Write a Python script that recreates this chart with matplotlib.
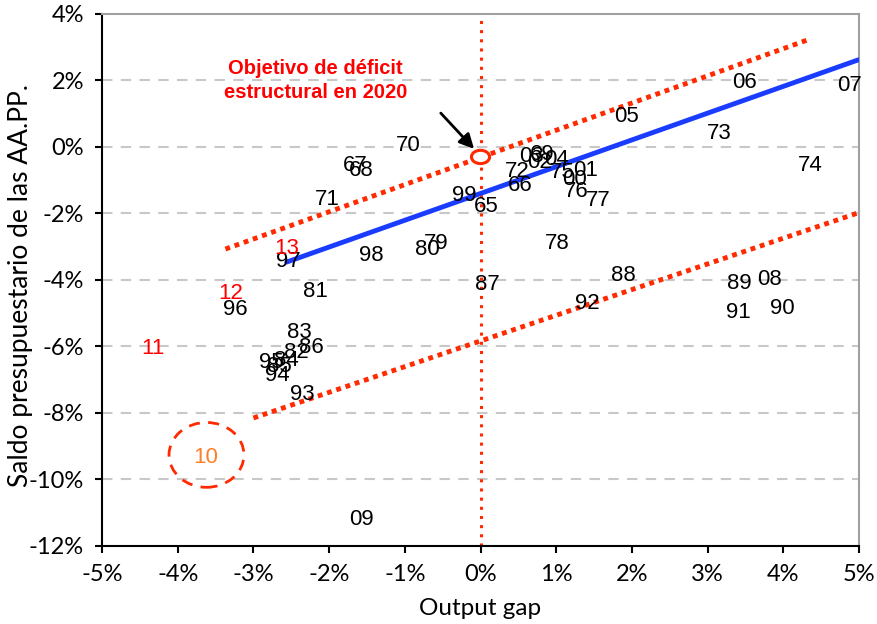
import matplotlib
matplotlib.use("Agg")
import matplotlib.pyplot as plt
from matplotlib.patches import Ellipse
from matplotlib.ticker import FuncFormatter

# años (etiquetas) y coordenadas: output gap (%) y saldo presupuestario (% PIB)
years = ["65", "66", "67", "68", "69", "70", "71", "72", "73", "74",
         "75", "76", "77", "78", "79", "80", "81", "82", "83", "84",
         "85", "86", "87", "88", "89", "90", "91", "92", "93", "94",
         "95", "96", "97", "98", "99", "00", "01", "02", "03", "04",
         "05", "06", "07", "08", "09", "10", "11", "12", "13"]
output_gap = [0.08, 0.53, -1.66, -1.57, 0.82, -0.95, -2.02, 0.48, 3.16, 4.35,
              1.08, 1.27, 1.55, 1.02, -0.58, -0.70, -2.18, -2.43, -2.39, -2.56,
              -2.66, -2.23, 0.09, 1.89, 3.42, 3.98, 3.41, 1.41, -2.35, -2.69,
              -2.77, -3.24, -2.54, -1.44, -0.21, 1.24, 1.39, 0.78, 0.67, 1.00,
              1.93, 3.49, 4.87, 3.82, -1.57, -3.63, -4.33, -3.30, -2.56]
saldo = [-1.80, -1.17, -0.57, -0.72, -0.24, 0.03, -1.59, -0.75, 0.42, -0.57,
         -0.78, -1.35, -1.62, -2.89, -2.89, -3.07, -4.36, -6.17, -5.59, -6.41,
         -6.59, -6.02, -4.15, -3.85, -4.12, -4.87, -4.99, -4.72, -7.43, -6.86,
         -6.47, -4.90, -3.43, -3.25, -1.47, -0.99, -0.72, -0.48, -0.30, -0.39,
         0.93, 1.95, 1.86, -4.00, -11.19, -9.35, -6.05, -4.42, -3.04]

# años recientes con otro color
highlight = {"10": "#ff7f27", "11": "#ff0000", "12": "#ff0000", "13": "#ff0000"}

# recta de regresión y bandas (extremos)
reg_x = [-2.56, 4.99]
reg_y = [-3.46, 2.62]
upper_x = [-3.37, 4.32]
upper_y = [-3.07, 3.22]
lower_x = [-3.0, 4.99]
lower_y = [-8.15, -1.98]

# objetivo de déficit estructural 2020
target_x = 0.0
target_y = -0.30

red = "#ff2a00"

fig = plt.figure(figsize=(8.78, 6.24), dpi=100)
ax = fig.add_axes([0.1162, 0.125, 0.8622, 0.8526])

ax.set_xlim(-5, 5)
ax.set_ylim(-12, 4)
ax.set_yticks(range(-12, 5, 2))
ax.set_xticks(range(-5, 6, 1))
ax.yaxis.set_major_formatter(FuncFormatter(lambda v, p: "%d%%" % v))
ax.xaxis.set_major_formatter(FuncFormatter(lambda v, p: "%d%%" % v))

for yv in range(-10, 4, 2):
    ax.axhline(yv, color="#c8c8c8", lw=1.5, ls=(0, (5, 4)), zorder=0)

ax.spines["top"].set_color("#a0a0a0")
ax.spines["top"].set_linewidth(1.5)
ax.spines["right"].set_color("#a0a0a0")
ax.spines["right"].set_linewidth(1.5)
ax.spines["left"].set_linewidth(1.5)
ax.spines["bottom"].set_linewidth(1.5)
ax.tick_params(direction="out", length=5, width=1.5, labelsize=17, pad=8)
for lab in ax.get_xticklabels() + ax.get_yticklabels():
    lab.set_family("Lato")

ax.set_xlabel("Output gap", fontsize=17.5, family="Lato")
ax.set_ylabel("Saldo presupuestario de las AA.PP.", fontsize=19, family="Lato")
ax.xaxis.set_label_coords(0.5, -0.098)
ax.yaxis.set_label_coords(-0.091, 0.49)

# línea vertical en 0
ax.axvline(0, color=red, lw=2.2, ls=(0, (1, 2)), zorder=2)

# bandas y regresión
ax.plot(upper_x, upper_y, color=red, lw=3.5, ls=(0, (1, 1)), zorder=2)
ax.plot(lower_x, lower_y, color=red, lw=3.5, ls=(0, (1, 1)), zorder=2)
ax.plot(reg_x, reg_y, color="#1a3cff", lw=3.5, solid_capstyle="round", zorder=3)

# etiquetas de años
for yr, gx, sy in zip(years, output_gap, saldo):
    ax.text(gx, sy, yr, ha="center", va="center", fontsize=16,
            family="Liberation Sans", color=highlight.get(yr, "black"), zorder=4)

# círculo discontinuo alrededor de 2010
ax.add_patch(Ellipse((-3.62, -9.26), 0.99, 1.95, fill=False, ec=red,
                     lw=2, ls=(0, (4, 3)), zorder=5))

# objetivo 2020
ax.add_patch(Ellipse((target_x, target_y), 0.24, 0.40, fc="white", ec=red,
                     lw=2.2, zorder=6))
ax.annotate("", xy=(-0.06, -0.12), xytext=(-0.55, 1.08),
            arrowprops=dict(arrowstyle="-|>", color="black", lw=2,
                            mutation_scale=22), zorder=6)
ax.text(-2.18, 2.0, "Objetivo de déficit\nestructural en 2020", ha="center",
        va="center", fontsize=14.5, color="#ff0000", family="Liberation Sans",
        fontweight="bold", linespacing=1.35)

fig.savefig("out.png", dpi=100)
